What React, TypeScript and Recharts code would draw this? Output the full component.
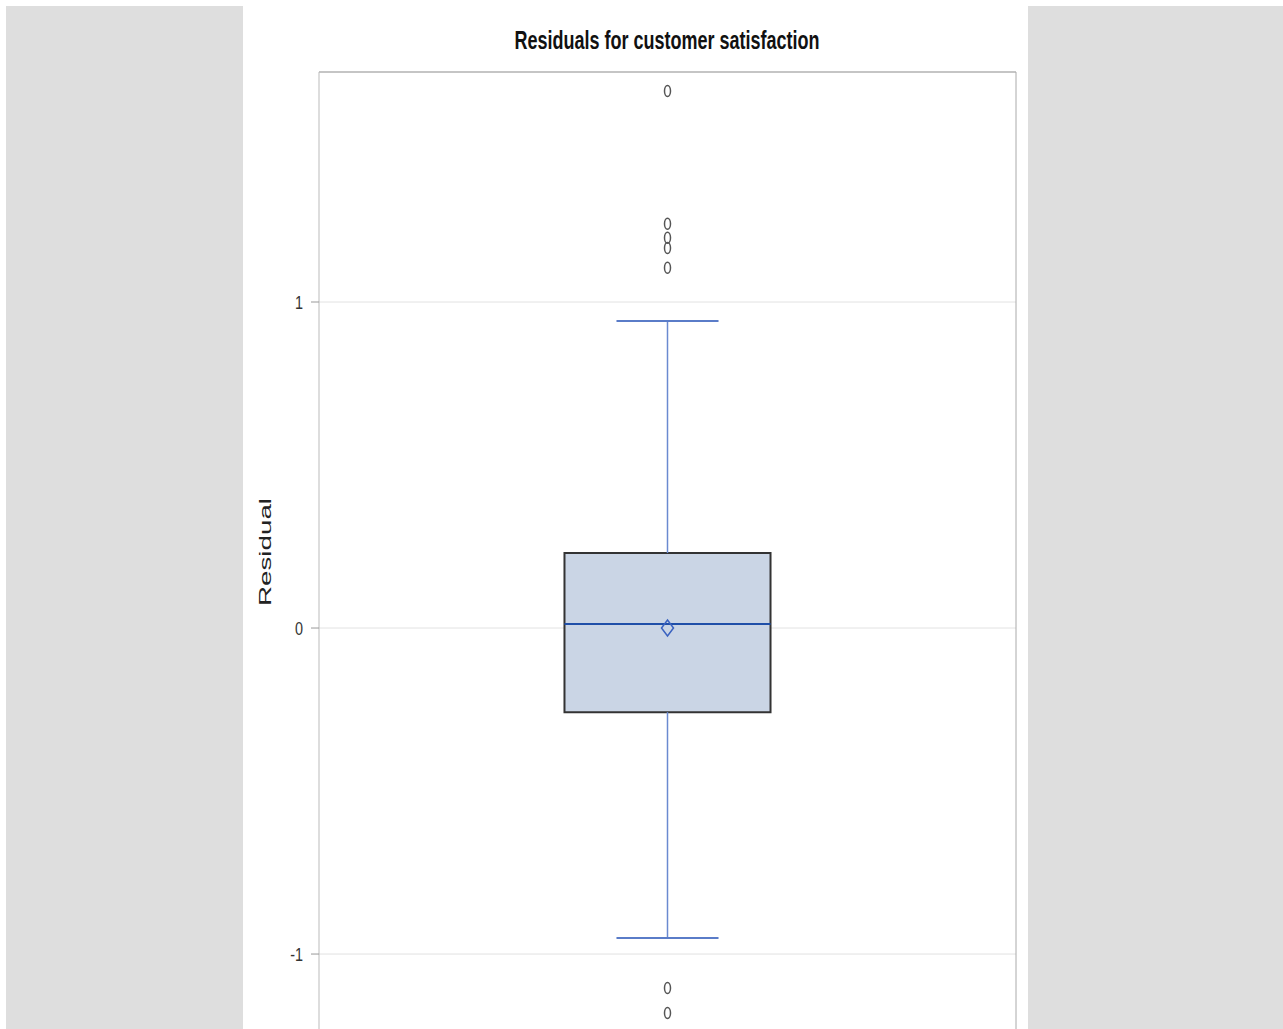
import { ComposedChart, XAxis, YAxis, CartesianGrid, ReferenceArea, ReferenceLine, Scatter } from "recharts";

// five-number summary of the residuals
const whiskerLow = -0.951;
const q1 = -0.258;
const median = 0.012;
const q3 = 0.23;
const whiskerHigh = 0.942;
const mean = 0.0;

const highOutliers = [1.647, 1.24, 1.197, 1.166, 1.105];
const lowOutliers = [-1.104, -1.181];
const yTicks = [-1, 0, 1];

const yMin = -1.325;
const yMax = 1.7055;
const center = 0.5;
const boxHalf = 0.1478;
const capHalf = 0.0732;

const outlierData = [...highOutliers, ...lowOutliers].map((y) => ({ x: center, y }));
const meanData = [{ x: center, y: mean }];

const Oval = (p: any) => (
  <ellipse cx={p.cx} cy={p.cy} rx={3} ry={5.5} fill="none" stroke="#555" strokeWidth={1.5} />
);

const Diamond = (p: any) => (
  <path
    d={`M${p.cx},${p.cy - 8} L${p.cx + 6},${p.cy} L${p.cx},${p.cy + 8} L${p.cx - 6},${p.cy} Z`}
    fill="none"
    stroke="#3a62c0"
    strokeWidth={1.5}
  />
);

const Tick = (p: any) => (
  <text
    x={p.x}
    y={p.y}
    textAnchor="end"
    dominantBaseline="central"
    fontSize={18}
    fill="#333"
    transform={`translate(${p.x} 0) scale(0.8 1) translate(${-p.x} 0)`}
  >
    {p.payload.value}
  </text>
);

export default function App() {
  return (
    <div style={{ position: "fixed", left: 0, top: 0, width: 1283, height: 1029, overflow: "hidden", background: "#fff" }}>
      <div style={{ position: "absolute", left: 6, top: 6, width: 1277, height: 1023, background: "#dedede" }} />
      <div style={{ position: "absolute", left: 243, top: 6, width: 785, height: 1100, background: "#fff" }}>
        <svg width={785} height={60} style={{ position: "absolute", left: 0, top: 0 }}>
          <text
            x={424}
            y={43}
            textAnchor="middle"
            textLength={305}
            lengthAdjust="spacingAndGlyphs"
            fontFamily="Liberation Sans, Arial, sans-serif"
            fontWeight="bold"
            fontSize={25}
            fill="#111"
          >
            Residuals for customer satisfaction
          </text>
        </svg>
        <div style={{ position: "absolute", left: 0, top: 0 }}>
          <ComposedChart
            width={785}
            height={1070}
            margin={{ top: 66, right: 12, left: 0, bottom: 16 }}
            style={{ fontFamily: "Liberation Sans, Arial, sans-serif" }}
          >
            <CartesianGrid vertical={false} stroke="#e2e2e2" />
            <XAxis dataKey="x" type="number" domain={[0, 1]} orientation="top" height={0} tick={false} tickLine={false} axisLine={{ stroke: "#888" }} />
            <YAxis
              type="number"
              domain={[yMin, yMax]}
              ticks={yTicks}
              width={76}
              allowDataOverflow
              tickSize={8}
              tickMargin={8}
              tick={Tick}
              tickLine={{ stroke: "#999" }}
              axisLine={{ stroke: "#bbb" }}
              label={{
                value: "Residual",
                content: (props: any) => {
                  const vb = props.viewBox;
                  const x = vb.x + 22;
                  const y = vb.y + vb.height / 2 - 14;
                  return (
                    <text
                      x={x}
                      y={y}
                      transform={`rotate(-90 ${x} ${y})`}
                      textAnchor="middle"
                      dominantBaseline="central"
                      textLength={108}
                      lengthAdjust="spacingAndGlyphs"
                      fontSize={16}
                      fill="#222"
                    >
                      Residual
                    </text>
                  );
                },
              }}
            />
            <ReferenceLine y={yMax} stroke="#999" />
            <ReferenceLine x={1} stroke="#aaa" />
            <ReferenceLine segment={[{ x: center, y: q3 }, { x: center, y: whiskerHigh }]} stroke="#6a8ad0" strokeWidth={1.5} />
            <ReferenceLine segment={[{ x: center, y: q1 }, { x: center, y: whiskerLow }]} stroke="#6a8ad0" strokeWidth={1.5} />
            <ReferenceLine segment={[{ x: center - capHalf, y: whiskerHigh }, { x: center + capHalf, y: whiskerHigh }]} stroke="#5a7cc8" strokeWidth={2} />
            <ReferenceLine segment={[{ x: center - capHalf, y: whiskerLow }, { x: center + capHalf, y: whiskerLow }]} stroke="#5a7cc8" strokeWidth={2} />
            <ReferenceArea x1={center - boxHalf} x2={center + boxHalf} y1={q1} y2={q3} fill="#cad5e5" fillOpacity={1} stroke="#333" strokeWidth={2} />
            <ReferenceLine segment={[{ x: center - boxHalf, y: median }, { x: center + boxHalf, y: median }]} stroke="#1f4fa8" strokeWidth={2} />
            <Scatter data={meanData} dataKey="y" shape={Diamond} isAnimationActive={false} />
            <Scatter data={outlierData} dataKey="y" shape={Oval} isAnimationActive={false} />
          </ComposedChart>
        </div>
      </div>
    </div>
  );
}
